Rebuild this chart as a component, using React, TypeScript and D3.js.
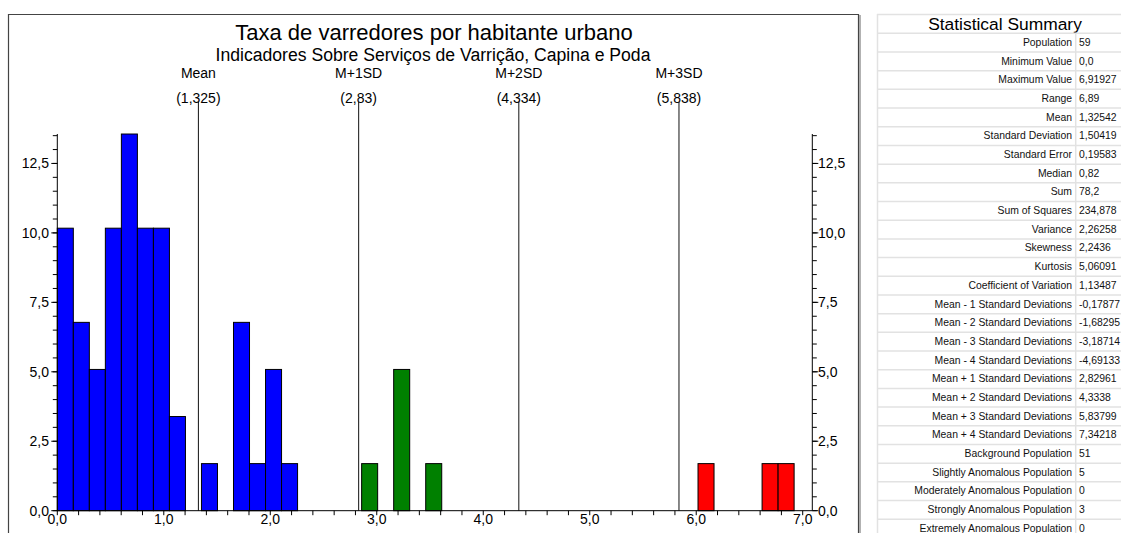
import React from "react";
import * as d3 from "d3";

const TITLE = "Taxa de varredores por habitante urbano";
const SUBTITLE = "Indicadores Sobre Serviços de Varrição, Capina e Poda";

const population = 59;
const maxValue = 6.91927;
const binTotal = 46;
// histogram bins (index of bin, number of samples)
const binIndex = [0, 1, 2, 3, 4, 5, 6, 7, 9, 11, 12, 13, 14, 19, 21, 23, 40, 44, 45];
const binCount = [6, 4, 3, 6, 8, 6, 6, 2, 1, 4, 1, 3, 1, 1, 3, 1, 1, 1, 1];

const refLabels = ["Mean", "M+1SD", "M+2SD", "M+3SD"];
const refValues = [1.325, 2.83, 4.334, 5.838];
const refTexts = ["(1,325)", "(2,83)", "(4,334)", "(5,838)"];

const xTicksMajor = [0, 1, 2, 3, 4, 5, 6, 7];
const yTicksMajor = [0, 2.5, 5, 7.5, 10, 12.5];

const statLabels = [
  "Population", "Minimum Value", "Maximum Value", "Range", "Mean",
  "Standard Deviation", "Standard Error", "Median", "Sum", "Sum of Squares",
  "Variance", "Skewness", "Kurtosis", "Coefficient of Variation",
  "Mean - 1 Standard Deviations", "Mean - 2 Standard Deviations",
  "Mean - 3 Standard Deviations", "Mean - 4 Standard Deviations",
  "Mean + 1 Standard Deviations", "Mean + 2 Standard Deviations",
  "Mean + 3 Standard Deviations", "Mean + 4 Standard Deviations",
  "Background Population", "Slightly Anomalous Population",
  "Moderately Anomalous Population", "Strongly Anomalous Population",
  "Extremely Anomalous Population",
];
const statValues = [
  "59", "0,0", "6,91927", "6,89", "1,32542", "1,50419", "0,19583", "0,82",
  "78,2", "234,878", "2,26258", "2,2436", "5,06091", "1,13487", "-0,17877",
  "-1,68295", "-3,18714", "-4,69133", "2,82961", "4,3338", "5,83799",
  "7,34218", "51", "5", "0", "3", "0",
];

const fmt = (v: number) => d3.format(".1f")(v).replace(".", ",");

export default function App() {
  const font = "'Liberation Sans', Arial, sans-serif";
  const x = d3.scaleLinear().domain([0, 7.09]).range([57.3, 812.3]);
  const y = d3.scaleLinear().domain([0, 13.56]).range([510.7, 134]);
  const bw = maxValue / binTotal;
  const xMinor = d3.range(0, 7.01, 0.2);
  const yMinor = d3.range(0, 13.51, 0.5);
  const colorFor = (c: number) =>
    c > refValues[3] ? "#ff0000" : c > refValues[1] ? "#008000" : "#0000ff";
  const rowTop = 33.3;
  const rowH = 18.69;

  return (
    <svg
      width={1121}
      height={533}
      style={{ position: "absolute", left: 0, top: 0, background: "#fff" }}
      fontFamily={font}
    >
      <rect x={0} y={0} width={1121} height={533} fill="#fff" />
      {/* chart frame */}
      <path d="M8.5,540 V14.5 H858.5 V540" fill="none" stroke="#444" strokeWidth={1.2} />
      <line x1={860} x2={860} y1={15} y2={540} stroke="#999" strokeWidth={1.5} />

      <text x={434} y={40} textAnchor="middle" fontSize={22} fill="#000">{TITLE}</text>
      <text x={433} y={61} textAnchor="middle" fontSize={17.6} fill="#000">{SUBTITLE}</text>

      {/* bars */}
      {binIndex.map((bi, i) => {
        const x0 = bi * bw;
        const h = (binCount[i] / population) * 100;
        return (
          <rect
            key={i}
            x={x(x0)}
            y={y(h)}
            width={x(x0 + bw) - x(x0)}
            height={y(0) - y(h)}
            fill={colorFor(x0 + bw / 2)}
            stroke="#000"
            strokeWidth={1}
          />
        );
      })}

      {/* reference lines */}
      {refValues.map((v, i) => (
        <g key={i}>
          <line x1={x(v)} x2={x(v)} y1={102} y2={y(0)} stroke="#111" strokeWidth={1} />
          <text x={x(v)} y={78} textAnchor="middle" fontSize={14} fill="#000">{refLabels[i]}</text>
          <text x={x(v)} y={103} textAnchor="middle" fontSize={14} fill="#000">{refTexts[i]}</text>
        </g>
      ))}

      {/* x axis */}
      <line x1={x(0)} x2={x(7.09)} y1={y(0)} y2={y(0)} stroke="#000" />
      {xMinor.map((t, i) => (
        <line key={i} x1={x(t)} x2={x(t)} y1={y(0)} y2={y(0) + 4.5} stroke="#000" />
      ))}
      {xTicksMajor.map((t) => (
        <text key={t} x={x(t)} y={524} textAnchor="middle" fontSize={14} fill="#000">{fmt(t)}</text>
      ))}

      {/* left y axis */}
      <line x1={x(0)} x2={x(0)} y1={134} y2={y(0)} stroke="#000" />
      {yMinor.map((t, i) => (
        <line key={i} x1={x(0) - 4.5} x2={x(0)} y1={y(t)} y2={y(t)} stroke="#000" />
      ))}
      {yTicksMajor.map((t) => (
        <g key={t}>
          <line x1={x(0) - 6} x2={x(0)} y1={y(t)} y2={y(t)} stroke="#000" />
          <text x={49} y={y(t) + 5} textAnchor="end" fontSize={14} fill="#000">{fmt(t)}</text>
        </g>
      ))}

      {/* right y axis */}
      <line x1={812.3} x2={812.3} y1={134} y2={y(0)} stroke="#000" />
      {yMinor.map((t, i) => (
        <line key={i} x1={812.3} x2={816.8} y1={y(t)} y2={y(t)} stroke="#000" />
      ))}
      {yTicksMajor.map((t) => (
        <g key={t}>
          <line x1={812.3} x2={818.3} y1={y(t)} y2={y(t)} stroke="#000" />
          <text x={818} y={y(t) + 5} textAnchor="start" fontSize={14} fill="#000">{fmt(t)}</text>
        </g>
      ))}

      {/* statistical summary */}
      <line x1={877.5} x2={877.5} y1={14} y2={540} stroke="#e2e2e2" strokeWidth={1.5} />
      <line x1={877} x2={1121} y1={14.5} y2={14.5} stroke="#e2e2e2" strokeWidth={1.5} />
      <text x={1005} y={30} textAnchor="middle" fontSize={17.4} fill="#000">Statistical Summary</text>
      <line x1={1075.7} x2={1075.7} y1={rowTop} y2={540} stroke="#e2e2e2" strokeWidth={1.5} />
      {statLabels.map((l, i) => {
        const top = rowTop + i * rowH;
        return (
          <g key={i}>
            <line x1={877} x2={1121} y1={top} y2={top} stroke="#e2e2e2" strokeWidth={1.5} />
            <text x={1072} y={top + 12.6} textAnchor="end" fontSize={10.4} fill="#111">{l}</text>
            <text x={1079} y={top + 12.6} textAnchor="start" fontSize={10.4} fill="#111">{statValues[i]}</text>
          </g>
        );
      })}
    </svg>
  );
}
